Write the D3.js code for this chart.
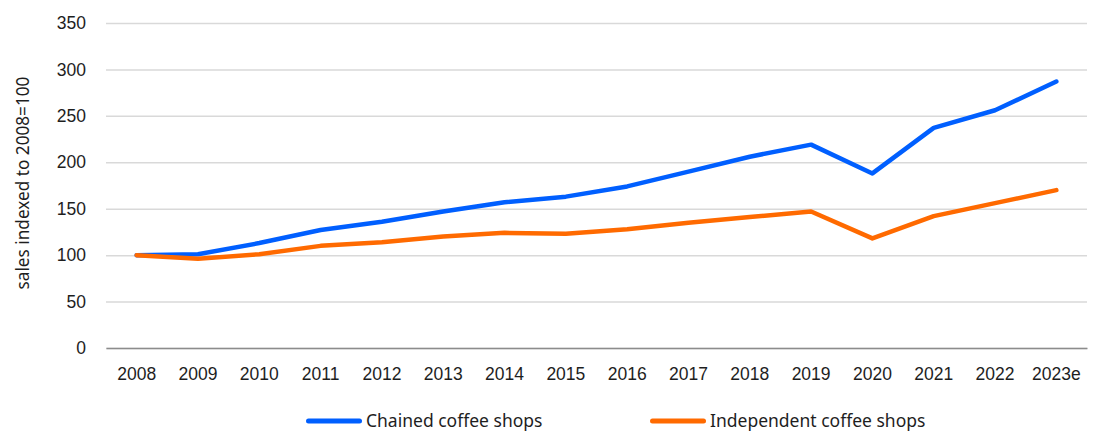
<!DOCTYPE html>
<html>
<head>
<meta charset="utf-8">
<script src="https://cdn.jsdelivr.net/npm/d3@7"></script>
<style>
  body { margin: 0; background: #fff; }
  svg { display: block; font-family: "Noto Sans", "Open Sans", sans-serif; }
</style>
</head>
<body>
<svg id="chart" width="1098" height="432"></svg>
<script>
const years = ["2008","2009","2010","2011","2012","2013","2014","2015","2016","2017","2018","2019","2020","2021","2022","2023e"];
const chained = [100, 101, 113, 127, 136, 147, 157, 163, 174, 190, 206, 219, 188, 237, 256, 287];
const independent = [100, 96, 101, 110, 114, 120, 124, 123, 128, 135, 141, 147, 118, 142, 156, 170];
const yTicks = [0, 50, 100, 150, 200, 250, 300, 350];
const seriesNames = ["Chained coffee shops", "Independent coffee shops"];
const seriesColors = ["#005FFF", "#FF6A00"];

const svg = d3.select("#chart");
const margin = { left: 106, right: 11, top: 23, bottom: 84 };
const W = 1098, H = 432;
const FONT = "'Noto Sans', 'Open Sans', sans-serif";

const x = d3.scaleBand().domain(years).range([margin.left, W - margin.right]);
const y = d3.scaleLinear().domain([0, 350]).range([H - margin.bottom, margin.top]);

// gridlines + y tick labels
const yAxis = svg.append("g")
  .attr("transform", `translate(${margin.left},0)`)
  .attr("font-family", FONT)
  .call(d3.axisLeft(y).tickValues(yTicks).tickSize(-(W - margin.left - margin.right)).tickPadding(20));
yAxis.select(".domain").remove();
yAxis.selectAll(".tick line").attr("stroke", "#d9d9d9").attr("stroke-width", 1.5);
yAxis.selectAll(".tick text").attr("font-size", 17.5).attr("fill", "#1e1e1e");

// baseline axis
const xAxis = svg.append("g")
  .attr("transform", `translate(0,${y(0)})`)
  .attr("font-family", FONT)
  .call(d3.axisBottom(x).tickSize(0).tickPadding(20));
xAxis.select(".domain").attr("stroke", "#8c8c8c").attr("stroke-width", 1.5);
xAxis.selectAll(".tick text").attr("font-size", 17.5).attr("fill", "#1e1e1e");

// y axis title
svg.append("text")
  .attr("transform", `translate(29,183) rotate(-90)`)
  .attr("text-anchor", "middle")
  .attr("font-size", 17.2)
  .attr("fill", "#1e1e1e")
  .text("sales indexed to 2008=100");

// lines
const line = d3.line()
  .x((d, i) => x(years[i]) + x.bandwidth() / 2)
  .y(d => y(d));

[chained, independent].forEach((vals, k) => {
  svg.append("path")
    .datum(vals)
    .attr("fill", "none")
    .attr("stroke", seriesColors[k])
    .attr("stroke-width", 4.5)
    .attr("stroke-linejoin", "round")
    .attr("stroke-linecap", "round")
    .attr("d", line);
});

// legend
const legendX = [306, 650];
seriesNames.forEach((name, k) => {
  const g = svg.append("g").attr("transform", `translate(${legendX[k]},421)`);
  g.append("line")
    .attr("x1", 2.5).attr("x2", 53.5).attr("y1", 0).attr("y2", 0)
    .attr("stroke", seriesColors[k]).attr("stroke-width", 5).attr("stroke-linecap", "round");
  g.append("text")
    .attr("x", 60).attr("y", 0).attr("dy", "0.35em")
    .attr("font-size", 17.5).attr("fill", "#1e1e1e")
    .text(name);
});
</script>
</body>
</html>
